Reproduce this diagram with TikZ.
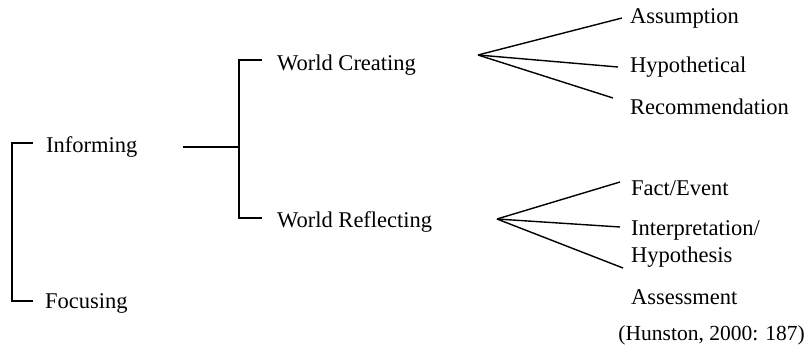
\documentclass[tikz,border=0pt]{standalone}
\usepackage{fontspec}
\setmainfont{Liberation Serif}
\tikzset{
  lbl/.style={anchor=west, inner sep=0pt, font=\fontsize{22.5}{24}\selectfont},
  ln/.style={line width=1.4pt}
}
\begin{document}
\begin{tikzpicture}[x=1pt,y=-1pt]
  \useasboundingbox (0,0) rectangle (806,348);
  % left column
  \node[lbl] (inf) at (46,147) {Informing};
  \node[lbl] (foc) at (45,303) {Focusing};
  \draw[ln] ([xshift=-13pt,yshift=4pt]inf.west) -- ++(-21,0) |- ([xshift=-12pt,yshift=2pt]foc.west);
  % informing splits
  \node[lbl] (wc) at (277,65) {World Creating};
  \node[lbl] (wr) at (277,222) {World Reflecting};
  \coordinate (wj) at (239,147);
  \draw[ln] ([xshift=45pt]inf.east) -- (wj);
  \draw[ln] ([xshift=-15pt,yshift=5pt]wc.west) -| (wj) |- ([xshift=-15pt,yshift=4pt]wr.west);
  % world creating fan
  \coordinate (fa) at (478,55);
  \node[lbl] (as) at (630,18) {Assumption};
  \node[lbl] (hy) at (630,67) {Hypothetical};
  \node[lbl] (rc) at (630,107) {Recommendation};
  \draw[ln] (fa) -- ([xshift=-8pt]as.west);
  \draw[ln] (fa) -- ([xshift=-12pt]hy.west);
  \draw[ln] (fa) -- ([xshift=-17pt,yshift=9pt]rc.west);
  % world reflecting fan
  \coordinate (fb) at (497,219);
  \node[lbl] (fe) at (631,188) {Fact/Event};
  \node[lbl] (ip) at (631,230) {Interpretation/};
  \node[lbl] (hs) at (631,257) {Hypothesis};
  \node[lbl] (ax) at (631,297) {Assessment};
  \draw[ln] (fb) -- ([xshift=-11pt,yshift=6pt]fe.west);
  \draw[ln] (fb) -- ([xshift=-11pt,yshift=3pt]ip.west);
  \draw[ln] (fb) -- ([xshift=-8pt,yshift=-11pt]hs.west);
  % source
  \node[lbl, anchor=east, font=\fontsize{21.5}{23}\selectfont] (src) at (805,335) {(Hunston, 2000: 187)};
\end{tikzpicture}
\end{document}
